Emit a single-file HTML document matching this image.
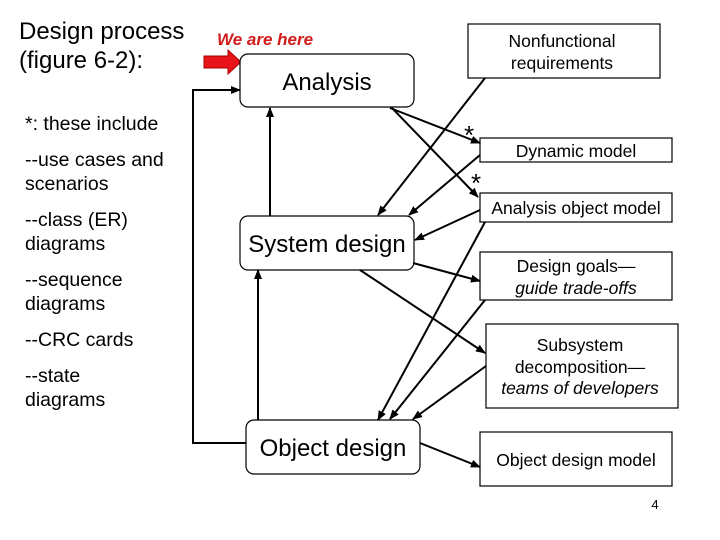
<!DOCTYPE html>
<html><head><meta charset="utf-8"><style>
html,body{margin:0;padding:0;background:#fff;}
svg{display:block;font-family:"Liberation Sans",sans-serif;}
</style></head><body>
<svg width="720" height="540" viewBox="0 0 720 540" xmlns="http://www.w3.org/2000/svg">
<defs>
<marker id="a" markerWidth="10" markerHeight="8" refX="9" refY="4" orient="auto" markerUnits="userSpaceOnUse">
<path d="M0,0 L10,4 L0,8 z" fill="#000"/></marker>
</defs>
<rect width="720" height="540" fill="#fff"/>
<g font-size="24" fill="#000">
<text x="19" y="39">Design process</text>
<text x="19" y="68">(figure 6-2):</text>
</g>
<g font-size="19.5" fill="#000">
<text x="25" y="130">*: these include</text>
<text x="25" y="166">--use cases and</text>
<text x="25" y="190">scenarios</text>
<text x="25" y="226">--class (ER)</text>
<text x="25" y="250">diagrams</text>
<text x="25" y="286">--sequence</text>
<text x="25" y="310">diagrams</text>
<text x="25" y="346">--CRC cards</text>
<text x="25" y="382">--state</text>
<text x="25" y="406">diagrams</text>
</g>
<text x="217" y="45" font-size="17" font-weight="bold" font-style="italic" fill="#d21c1c">We are here</text>
<path d="M204,56 L228,56 L228,50 L241,62 L228,74 L228,68 L204,68 z" fill="#e8141a" stroke="#a00" stroke-width="1"/>
<g fill="#fff" stroke="#000" stroke-width="1.2">
<rect x="240" y="54" width="174" height="53" rx="8"/>
<rect x="240" y="216" width="174" height="54" rx="8"/>
<rect x="246" y="420" width="174" height="54" rx="8"/>
<rect x="468" y="24" width="192" height="54"/>
<rect x="480" y="138" width="192" height="24"/>
<rect x="480" y="193" width="192" height="29"/>
<rect x="480" y="252" width="192" height="48"/>
<rect x="486" y="324" width="192" height="84"/>
<rect x="480" y="432" width="192" height="54"/>
</g>
<g font-size="24" text-anchor="middle">
<text x="327" y="90">Analysis</text>
<text x="327" y="252">System design</text>
<text x="333" y="456">Object design</text>
</g>
<g font-size="17.5" text-anchor="middle">
<text x="562" y="47">Nonfunctional</text>
<text x="562" y="69">requirements</text>
<text x="576" y="157">Dynamic model</text>
<text x="576" y="214">Analysis object model</text>
<text x="576" y="272">Design goals—</text>
<text x="576" y="294" font-style="italic">guide trade-offs</text>
<text x="580" y="351">Subsystem</text>
<text x="580" y="373">decomposition—</text>
<text x="580" y="394" font-style="italic">teams of developers</text>
<text x="576" y="466">Object design model</text>
</g>
<text x="469" y="144" font-size="26" text-anchor="middle">*</text>
<text x="476" y="192" font-size="26" text-anchor="middle">*</text>
<text x="655" y="509" font-size="13" text-anchor="middle">4</text>
<g stroke="#000" stroke-width="2" fill="none" marker-end="url(#a)">
<path d="M246,443 L193,443 L193,90 L240,90"/>
<line x1="270" y1="216" x2="270" y2="108"/>
<line x1="258" y1="420" x2="258" y2="270"/>
<line x1="390" y1="108" x2="480" y2="143"/>
<line x1="392" y1="108" x2="478" y2="197"/>
<line x1="485" y1="78" x2="378" y2="215"/>
<line x1="480" y1="155" x2="409" y2="215"/>
<line x1="480" y1="210" x2="415" y2="240"/>
<line x1="485" y1="222" x2="378" y2="420"/>
<line x1="413" y1="263" x2="480" y2="281"/>
<line x1="360" y1="270" x2="485" y2="353"/>
<line x1="485" y1="300" x2="390" y2="419"/>
<line x1="486" y1="366" x2="413" y2="419"/>
<line x1="420" y1="443" x2="480" y2="467"/>
</g>
</svg>
</body></html>
